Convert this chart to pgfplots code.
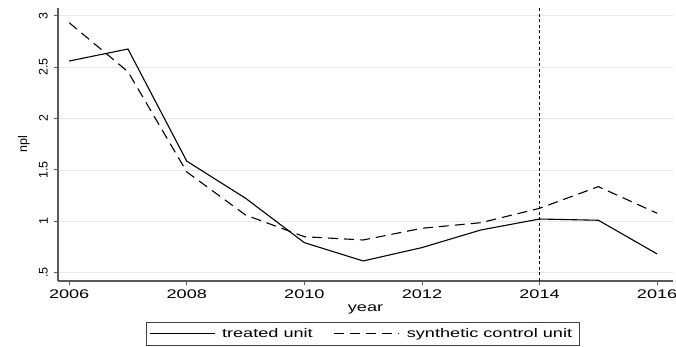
\documentclass[border=0pt]{standalone}
\usepackage{fontspec}
\setmainfont{Liberation Sans}[FakeStretch=1.45]
\newfontfamily\narrowfont{Liberation Sans}
\usepackage{pgfplots}
\pgfplotsset{compat=1.18}
\begin{document}
\fontsize{12.5}{15}\selectfont
\begin{tikzpicture}
\begin{axis}[
  name=ax,
  scale only axis, width=615pt, height=273pt,
  xmin=2005.81, xmax=2016.27, ymin=0.419, ymax=3.075,
  axis x line*=bottom, axis y line*=left,
  axis line style={black!65, line width=1.2pt, -},
  xtick={2006,2008,2010,2012,2014,2016},
  xticklabels={2006,2008,2010,2012,2014,2016},
  ytick={0.5,1,1.5,2,2.5,3},
  yticklabels={.5,1,1.5,2,2.5,3},
  /pgf/number format/assume math mode=true,
  tick align=outside, major tick length=4pt,
  tick style={black!65, line width=0.8pt},
  xticklabel style={inner sep=5pt},
  yticklabel style={rotate=90, anchor=south, inner sep=6pt,
    font=\narrowfont\fontsize{12.5}{14}\selectfont},
  ymajorgrids, major grid style={black!9, line width=0.7pt},
  xlabel={year}, ylabel={npl},
  xlabel style={inner sep=1pt},
  ylabel style={anchor=south, inner sep=3pt,
    font=\narrowfont\fontsize{12.5}{14}\selectfont},
  legend style={at={(axis description cs:0.496,-0.150)}, anchor=north,
    legend columns=2, draw=black!75, line width=0.8pt,
    inner xsep=2.5pt, inner ysep=2pt,
    /tikz/column sep=2pt,
    /tikz/every even column/.append style={column sep=16pt},
    nodes={inner xsep=5pt, inner ysep=4pt}},
  legend image code/.code={\draw[#1] (0pt,0pt) -- (65pt,0pt);},
]
\addplot[black, line width=1.1pt] coordinates {
(2006,2.559) (2007,2.676) (2008,1.585) (2009,1.224) (2010,0.792) (2011,0.614)
(2012,0.744) (2013,0.915) (2014,1.022) (2015,1.010) (2016,0.682)};
\addlegendentry{treated unit}
\addplot[black, line width=1.1pt, dash pattern=on 10pt off 6pt] coordinates {
(2006,2.932) (2007,2.455) (2008,1.480) (2009,1.061) (2010,0.850) (2011,0.818)
(2012,0.932) (2013,0.986) (2014,1.126) (2015,1.337) (2016,1.078)};
\addlegendentry{synthetic control unit}
\addplot[black, line width=1pt, dash pattern=on 3pt off 2.5pt, forget plot] coordinates {(2014,0.419) (2014,3.075)};
\end{axis}
\pgfresetboundingbox
\path[use as bounding box] ([xshift=-58pt,yshift=-66pt]ax.south west) rectangle ([xshift=3pt,yshift=8pt]ax.north east);
\end{tikzpicture}
\end{document}
